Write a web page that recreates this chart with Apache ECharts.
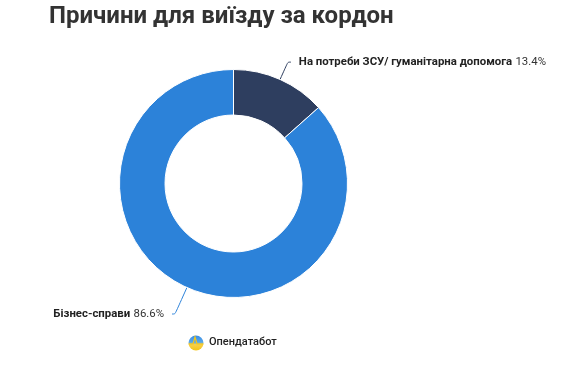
<!DOCTYPE html>
<html><head><meta charset="utf-8">
<script src="https://cdn.jsdelivr.net/npm/echarts@6/dist/echarts.min.js"></script>
<style>html,body{margin:0;padding:0;background:#fff}#c{width:571px;height:365px}</style>
</head><body><div id="c"></div>
<script>
const titleText = 'Причини для виїзду за кордон';
const categories = ['На потреби ЗСУ/ гуманітарна допомога', 'Бізнес-справи'];
const values = [13.4, 86.6];
const colors = ['#2e3e5f', '#2c82d9'];

const lineLengths = [19, 29];
const chart = echarts.init(document.getElementById('c'));
chart.setOption({
  animation: false,
  title: {
    text: titleText, left: 44, top: 0,
    textStyle: {fontFamily: 'Roboto', fontWeight: 'bold', fontSize: 24, color: '#333333'}
  },
  series: [{
    type: 'pie',
    center: [233.5, 183.5],
    radius: [68.5, 114],
    startAngle: 90,
    clockwise: true,
    itemStyle: {borderColor: '#ffffff', borderWidth: 1},
    label: {
      formatter: p => '{n|' + p.name + '} {v|' + p.value + '%}',
      distanceToLabelLine: 8,
      rich: {
        n: {fontFamily: 'Roboto', fontWeight: 'bold', fontSize: 11.4, color: '#222'},
        v: {fontFamily: 'Roboto', fontSize: 11.4, color: '#333'}
      }
    },
    labelLine: {show: true, length2: 3, smooth: true, lineStyle: {width: 1}},
    data: categories.map((c, i) => ({name: c, value: values[i], itemStyle: {color: colors[i]}, labelLine: {length: lineLengths[i]}}))
  }],
  graphic: [
    {type: 'circle', shape: {cx: 196, cy: 343, r: 7.5}, style: {fill: new echarts.graphic.LinearGradient(0, 0, 0, 1, [{offset: 0, color: '#3a8ee6'}, {offset: 0.45, color: '#5aa8e8'}, {offset: 0.6, color: '#f7d04a'}, {offset: 1, color: '#f5c518'}])}},
    {type: 'polyline', shape: {points: [[188.5, 344], [193, 344], [195, 337], [197, 344], [203.5, 344]]}, style: {stroke: '#f5c518', lineWidth: 1.2, fill: null}},
    {type: 'text', left: 209, top: 337, style: {text: 'Опендатабот', font: '500 11px Roboto', fill: '#222'}}
  ]
});
</script></body></html>
